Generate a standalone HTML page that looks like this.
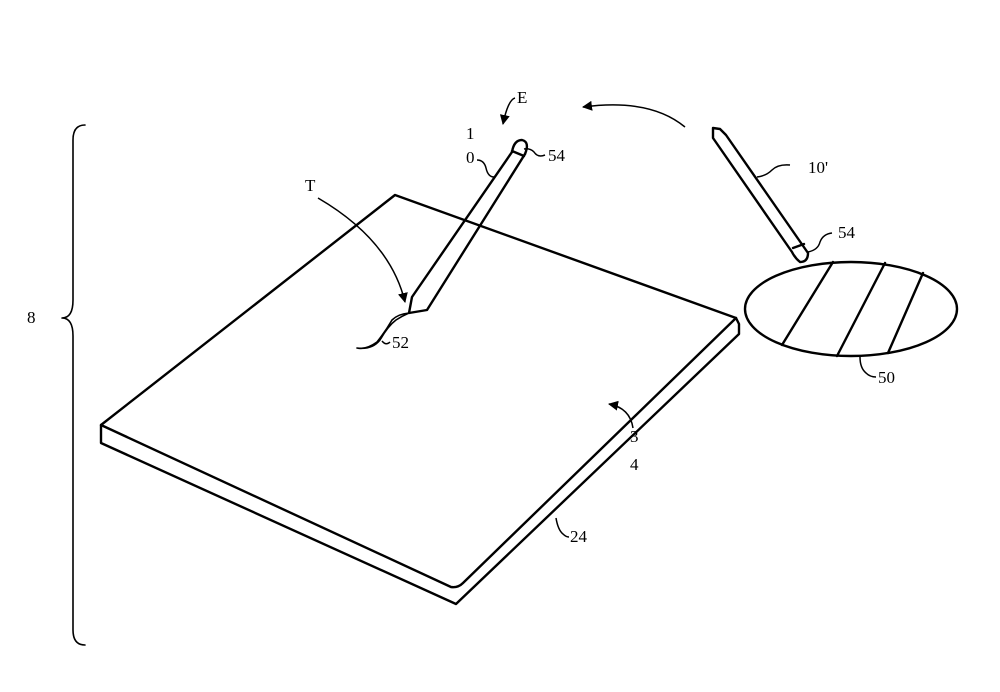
<!DOCTYPE html>
<html><head><meta charset="utf-8"><style>
html,body{margin:0;padding:0;background:#fff;}
svg{display:block;}
text{font-family:"Liberation Serif",serif;font-size:17px;fill:#000;}
</style></head><body>
<svg width="1000" height="692" viewBox="0 0 1000 692" xmlns="http://www.w3.org/2000/svg">
<defs>
<marker id="ah" viewBox="0 0 10 10" refX="9" refY="5" markerWidth="10" markerHeight="10" orient="auto-start-reverse" markerUnits="userSpaceOnUse"><path d="M0,0 L10,5 L0,10 z" fill="#000"/></marker>
</defs>
<g fill="none" stroke="#000" stroke-width="2.4" stroke-linejoin="round" stroke-linecap="round">
<path d="M395,195 L736,318 L463,583 Q458,588 451,587 L101,425 Z"/>
<path d="M101,425 L101,443 L456,604 L739,334 L739,324 L736,318"/>
<path d="M512,152 L412,297 L409,313 L427,310 L525,154"/>
<path d="M512,152 Q514,140 522,140 Q530,142 525,154 M512,151 L524,156"/>
<path d="M409,313 Q398,314 392,320 Q385,332 377,342 Q366,350 357,348 M357,348 Q372,350 380,340 Q388,326 396,320 Q402,316 409,313" stroke-width="1.6"/>
<path d="M713,138 L713,128 L720,129 L726,135 L808,253 Q808,262 800,262 Q795,258 792,252 Z"/>
<path d="M793,248 L804,244"/>
<ellipse cx="851" cy="309" rx="106" ry="47"/>
<path d="M833,262 L782,345 M885,263 L837,356 M923,273 L888,353"/>
<path d="M85,125 Q73,125 73,140 L73,300 Q73,318 62,318 Q73,318 73,336 L73,630 Q73,645 85,645" stroke-width="1.6"/>
</g>
<g fill="none" stroke="#000" stroke-width="1.5">
<path d="M685,127 Q650,98 583,107" marker-end="url(#ah)"/>
<path d="M515,98 Q508,100 503,124" marker-end="url(#ah)"/>
<path d="M318,198 Q390,240 405,302" marker-end="url(#ah)"/>
<path d="M633,428 Q630,408 609,404" marker-end="url(#ah)"/>
<path d="M477,160 Q484,160 486,168 Q488,177 494,177"/>
<path d="M524,149 Q530,148 534,152 Q538,158 545,155"/>
<path d="M757,177 Q766,176 772,170 Q778,164 790,165"/>
<path d="M808,252 Q818,250 820,242 Q823,234 832,233"/>
<path d="M860,357 Q860,368 866,373 Q870,377 876,377"/>
<path d="M382,341 Q386,346 390,342"/>
<path d="M556,518 Q558,530 563,534 Q566,537 569,537"/>
</g>
<text x="517" y="103">E</text>
<text x="466" y="139">1</text>
<text x="466" y="163">0</text>
<text x="548" y="161">54</text>
<text x="808" y="173">10'</text>
<text x="838" y="238">54</text>
<text x="878" y="383">50</text>
<text x="305" y="191">T</text>
<text x="392" y="348">52</text>
<text x="630" y="442">3</text>
<text x="630" y="470">4</text>
<text x="570" y="542">24</text>
<text x="27" y="323">8</text>
</svg>
</body></html>
